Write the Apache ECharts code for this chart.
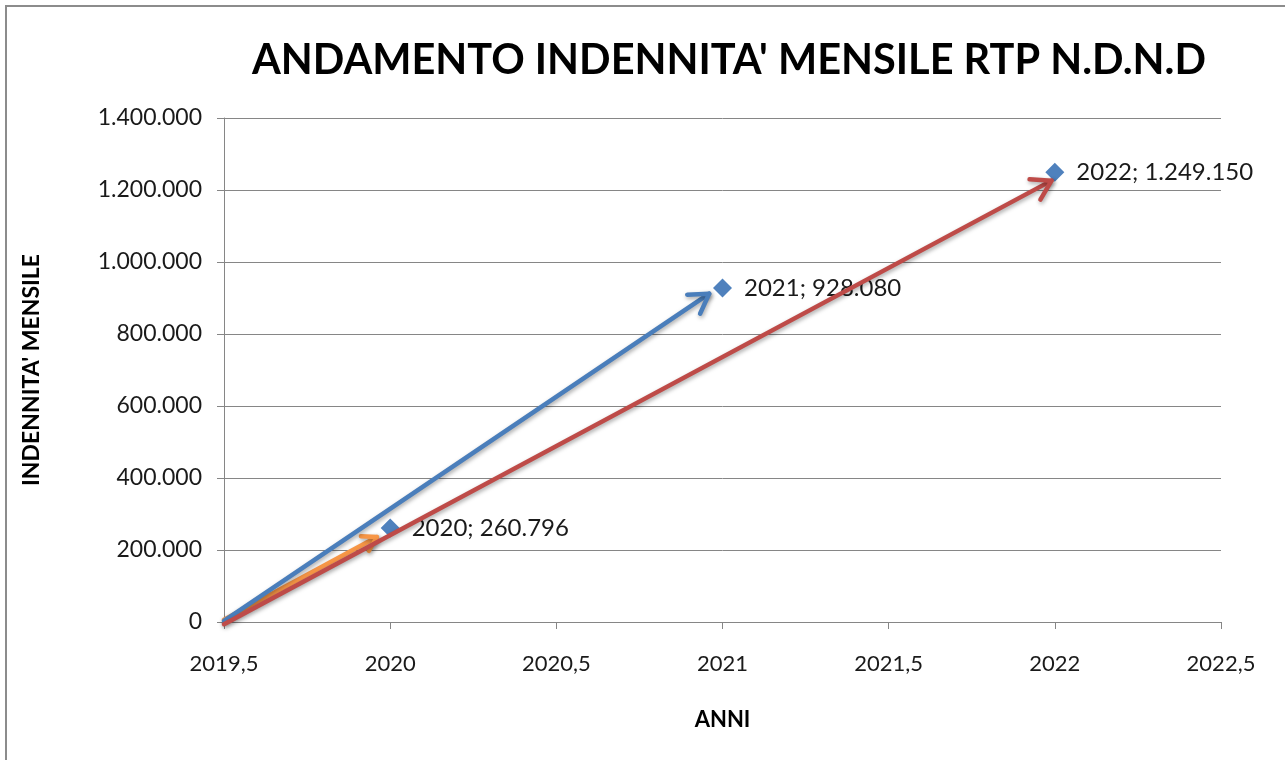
<!DOCTYPE html>
<html>
<head>
<meta charset="utf-8">
<script src="https://cdn.jsdelivr.net/npm/echarts@6/dist/echarts.min.js"></script>
<style>
  html, body { margin: 0; padding: 0; background: #fff; }
  #chart { width: 1285px; height: 760px; }
</style>
</head>
<body>
<div id="chart"></div>
<script>
// punti del grafico
const years = [2020, 2021, 2022];
const indennita = [260796, 928080, 1249150];

// frecce disegnate sopra il grafico (da -> a), arancione sotto le altre
const arrowFromX = [2019.5, 2019.5, 2019.5];
const arrowFromY = [6000, 3000, -6000];
const arrowToX = [2019.96, 2020.96, 2021.99];
const arrowToY = [236000, 912000, 1226000];
const arrowColors = ['#F79646', '#4A7EBB', '#BE4B48'];
const arrowHead = [16, 22, 22];

const xTicks = [2019.5, 2020, 2020.5, 2021, 2021.5, 2022, 2022.5];

const fontFam = 'Lato, "Open Sans", sans-serif';

// formato italiano: punto per le migliaia, virgola per i decimali
const fmtNum = (v) => {
  const parts = String(v).split('.');
  parts[0] = parts[0].replace(/\B(?=(\d{3})+(?!\d))/g, '.');
  return parts.join(',');
};
const fmtYear = (v) => String(v).replace('.', ',');

const chart = echarts.init(document.getElementById('chart'));

chart.setOption({
  backgroundColor: '#fff',
  animation: false,
  title: {
    text: "ANDAMENTO INDENNITA' MENSILE RTP N.D.N.D",
    left: 724,
    textAlign: 'center',
    top: 35,
    textStyle: { fontFamily: fontFam, fontSize: 41.5, fontWeight: 'bold', color: '#000' }
  },
  graphic: [{
    type: 'rect',
    shape: { x: 6, y: 6, width: 1400, height: 900 },
    style: { fill: 'none', stroke: '#8c8c8c', lineWidth: 2 },
    silent: true
  }],
  grid: { left: 224, right: 64, top: 118, bottom: 138 },
  xAxis: {
    type: 'value',
    min: xTicks[0],
    max: xTicks[xTicks.length - 1],
    interval: 0.5,
    name: 'ANNI',
    nameLocation: 'middle',
    nameGap: 87,
    nameTextStyle: { fontFamily: fontFam, fontSize: 22, fontWeight: 'bold', color: '#000' },
    axisLine: { lineStyle: { color: '#868686', width: 1 } },
    axisTick: { show: true, length: 7, lineStyle: { color: '#868686' } },
    axisLabel: { formatter: fmtYear, fontFamily: fontFam, fontSize: 22, color: '#1a1a1a', margin: 31 },
    splitLine: { show: false }
  },
  yAxis: {
    type: 'value',
    min: 0,
    max: 1400000,
    interval: 200000,
    name: "INDENNITA' MENSILE",
    nameLocation: 'middle',
    nameGap: 181,
    nameRotate: 90,
    nameTextStyle: { fontFamily: fontFam, fontSize: 23, fontWeight: 'bold', color: '#000' },
    axisLine: { show: true, lineStyle: { color: '#868686', width: 1 } },
    axisTick: { show: true, length: 7, lineStyle: { color: '#868686' } },
    axisLabel: { formatter: fmtNum, fontFamily: fontFam, fontSize: 23, color: '#1a1a1a', margin: 22 },
    splitLine: { show: true, lineStyle: { color: '#868686', width: 1 } }
  },
  series: [
    {
      type: 'scatter',
      symbol: 'diamond',
      symbolSize: [19, 19],
      itemStyle: { color: '#4F81BD', opacity: 1 },
      data: years.map((y, i) => [y, indennita[i]]),
      label: {
        show: true,
        position: 'right',
        distance: 12,
        fontFamily: fontFam,
        fontSize: 24,
        color: '#1a1a1a',
        formatter: (p) => p.value[0] + '; ' + fmtNum(p.value[1])
      },
      z: 2
    },
    {
      type: 'custom',
      z: 5,
      data: arrowFromX.map((x, i) => [x, arrowFromY[i], arrowToX[i], arrowToY[i], i]),
      encode: { x: [0, 2], y: [1, 3] },
      renderItem: (params, api) => {
        const i = api.value(4);
        const p0 = api.coord([api.value(0), api.value(1)]);
        const p1 = api.coord([api.value(2), api.value(3)]);
        const ang = Math.atan2(p1[1] - p0[1], p1[0] - p0[0]);
        const L = arrowHead[i];
        const a = 0.55;
        const h1 = [p1[0] - L * Math.cos(ang - a), p1[1] - L * Math.sin(ang - a)];
        const h2 = [p1[0] - L * Math.cos(ang + a), p1[1] - L * Math.sin(ang + a)];
        const style = {
          stroke: arrowColors[i],
          fill: 'none',
          lineWidth: 4.5,
          lineCap: 'round',
          lineJoin: 'round',
          shadowBlur: 4,
          shadowOffsetX: 1,
          shadowOffsetY: 2,
          shadowColor: 'rgba(0,0,0,0.35)'
        };
        return {
          type: 'group',
          children: [
            { type: 'line', shape: { x1: p0[0], y1: p0[1], x2: p1[0], y2: p1[1] }, style },
            { type: 'polyline', shape: { points: [h1, p1, h2] }, style }
          ]
        };
      }
    }
  ]
});
</script>
</body>
</html>
